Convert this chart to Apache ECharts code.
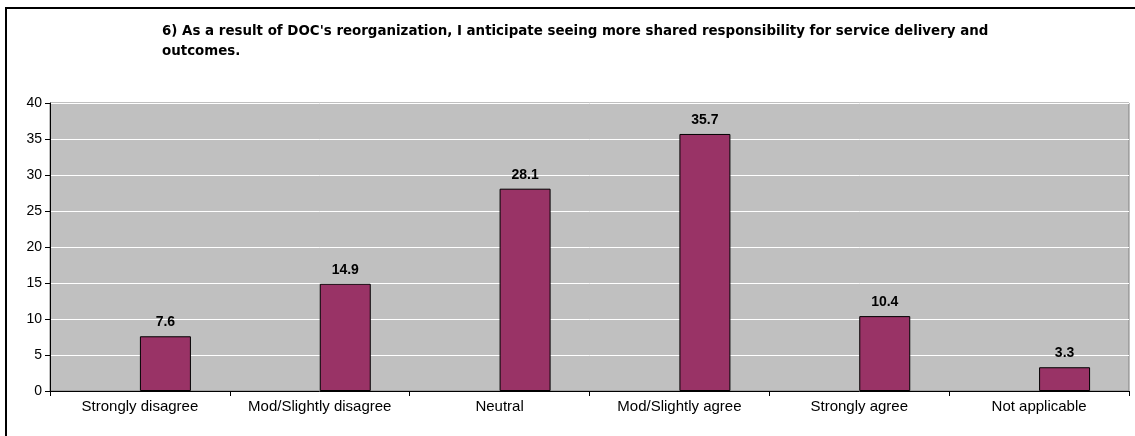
<!DOCTYPE html>
<html>
<head>
<meta charset="utf-8">
<script src="https://cdn.jsdelivr.net/npm/echarts@6/dist/echarts.min.js"></script>
<style>
  html, body { margin: 0; padding: 0; background: #fff; }
  #main { width: 1135px; height: 436px; }
</style>
</head>
<body>
<div id="main"></div>
<script>
// 数据
var titleText = "6) As a result of DOC's reorganization, I anticipate seeing more shared responsibility for service delivery and\noutcomes.";
var categories = ['Strongly disagree', 'Mod/Slightly disagree', 'Neutral', 'Mod/Slightly agree', 'Strongly agree', 'Not applicable'];
var percents = [7.6, 14.9, 28.1, 35.7, 10.4, 3.3];
var spacer = [null, null, null, null, null, null]; // 空系列, 让柱子从类目中心开始
var yTicks = { min: 0, max: 40, step: 5 };

var myChart = echarts.init(document.getElementById('main'));
var font = 'Liberation Sans, Arial, sans-serif';

var option = {
  animation: false,
  title: {
    text: titleText,
    left: 162,
    top: 22,
    padding: 0,
    textStyle: { fontFamily: 'DejaVu Sans', fontSize: 13.4, fontWeight: 'bold', color: '#000', lineHeight: 20 }
  },
  // 外框
  graphic: [{
    type: 'rect',
    shape: { x: 6, y: 8, width: 1200, height: 500 },
    style: { fill: 'none', stroke: '#000', lineWidth: 2 },
    silent: true
  }],
  grid: {
    left: 50, right: 6, top: 103, bottom: 45,
    show: true,
    backgroundColor: '#C0C0C0',
    borderColor: '#808080',
    borderWidth: 1
  },
  xAxis: {
    type: 'category',
    data: categories,
    axisLine: { lineStyle: { color: '#000', width: 1 } },
    axisTick: { show: true, length: 5, lineStyle: { color: '#000' } },
    axisLabel: { color: '#000', fontFamily: font, fontSize: 15, margin: 8, interval: 0 }
  },
  yAxis: {
    type: 'value',
    min: yTicks.min,
    max: yTicks.max,
    interval: yTicks.step,
    axisLine: { show: true, lineStyle: { color: '#000', width: 1 } },
    axisTick: { show: true, length: 5, lineStyle: { color: '#000' } },
    axisLabel: { color: '#000', fontFamily: font, fontSize: 14, margin: 8 },
    splitLine: { show: true, lineStyle: { color: '#FFFFFF', width: 1 } }
  },
  series: [
    {
      name: 'spacer',
      type: 'bar',
      data: spacer,
      barWidth: 51,
      barGap: '0%'
    },
    {
      name: 'percent',
      type: 'bar',
      data: percents,
      barWidth: 51,
      barGap: '0%',
      itemStyle: { color: '#993366', borderColor: '#000', borderWidth: 1 },
      label: {
        show: true,
        position: 'top',
        distance: 7,
        color: '#000',
        fontFamily: font,
        fontSize: 14,
        fontWeight: 'bold'
      }
    }
  ]
};
myChart.setOption(option);
</script>
</body>
</html>
